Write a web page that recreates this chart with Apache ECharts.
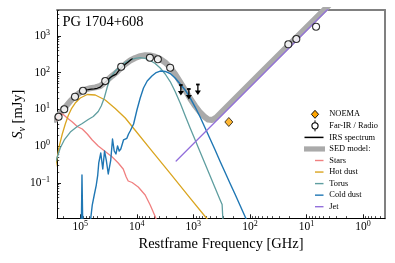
<!DOCTYPE html>
<html><head><meta charset="utf-8">
<script src="https://cdn.jsdelivr.net/npm/echarts@6/dist/echarts.min.js"></script>
<style>html,body{margin:0;padding:0;background:#fff}#c{width:395px;height:263px}</style>
</head><body><div id="c"></div>
<script>
const FONT = '"Liberation Serif","DejaVu Serif",serif';

// ---- data (frequency in GHz, flux density in mJy) ----
const starsNu = [2.77e5, 2.26e5, 2.00e5, 1.70e5, 1.38e5, 1.13e5, 9.22e4, 7.52e4, 6.14e4, 4.81e4, 3.62e4, 2.72e4, 2.13e4, 1.74e4, 1.54e4, 1.42e4, 1.21e4, 9440, 7110, 5800, 4730, 4190];
const starsS  = [4.8, 7.73, 7.26, 5.83, 4.54, 3.42, 2.92, 2.14, 1.47, 1.01, 0.713, 0.505, 0.347, 0.238, 0.144, 0.112, 0.102, 0.0769, 0.0466, 0.0248, 0.0121, 0.00708];

const hotNu = [2.77e5, 2.55e5, 2.35e5, 2.08e5, 1.84e5, 1.63e5, 1.44e5, 1.23e5, 1.00e5, 7.52e4, 5.43e4, 3.62e4, 2.41e4, 1.60e4, 1.07e4, 5800, 2570, 1140, 594, 412];
const hotS  = [0.253, 0.505, 1.01, 2.14, 4.00, 6.82, 10.3, 14.9, 20.5, 25.5, 24.7, 18.0, 10.6, 5.83, 2.70, 0.844, 0.180, 0.0385, 0.0112, 0.00558];

const torusNu = [2.77e5, 2.55e5, 2.26e5, 1.92e5, 1.50e5, 1.13e5, 9.22e4, 7.23e4, 5.89e4, 4.81e4, 4.26e4, 3.77e4, 3.33e4, 2.95e4, 2.41e4, 1.96e4, 1.60e4, 1.31e4, 1.07e4, 8710, 7110, 5800, 4730, 3860, 3150, 2570, 2100, 1710, 1400, 1140, 929, 759, 619, 505, 412, 336, 310, 297];
const torusS  = [0.347, 0.505, 0.887, 1.47, 2.42, 3.42, 4.13, 5.31, 6.41, 8.77, 12.4, 20.5, 40.7, 71.7, 111, 148, 190, 222, 244, 259, 247, 215, 178, 134, 92.2, 57.5, 30.8, 14.9, 6.82, 3.11, 1.47, 0.690, 0.325, 0.153, 0.0721, 0.0340, 0.0256, 0.00708];

const coldNu = [1.04e5, 9.52e4, 9.33e4, 9.10e4, 8.49e4, 6.93e4, 6.52e4, 6.14e4, 5.66e4, 5.21e4, 4.91e4, 4.71e4, 4.34e4, 4.00e4, 3.72e4, 3.47e4, 3.20e4, 2.89e4, 2.69e4, 2.51e4, 2.34e4, 2.19e4, 2.05e4, 1.92e4, 1.72e4, 1.50e4, 1.40e4, 1.31e4, 1.14e4, 9950, 8710, 7620, 6550, 5410, 4540, 3860, 3150, 2570, 2100, 1710, 1400, 1140, 929, 759, 619, 505, 412, 336, 274, 224, 182, 149, 122, 99.2];
const coldS  = [0.00276, 0.0133, 0.163, 0.0133, 0.00276, 0.00276, 0.0110, 0.0248, 0.0466, 0.0871, 0.163, 0.347, 0.649, 0.238, 0.735, 0.418, 0.174, 0.418, 1.56, 0.735, 0.610, 1.01, 0.735, 0.834, 1.47, 1.63, 2.14, 2.58, 4.00, 9.63, 20.5, 38.3, 59.4, 81.3, 101, 111, 108, 95, 71.8, 49.2, 33.8, 20.5, 11.6, 6.21, 3.11, 1.56, 0.783, 0.380, 0.191, 0.0957, 0.0480, 0.0241, 0.0121, 0.00605];

const jetNu = [2014, 2];
const jetS  = [0.393, 16800];

const sedNu = [2.77e5, 2.55e5, 2.26e5, 1.92e5, 1.50e5, 1.23e5, 1.00e5, 8.16e4, 6.66e4, 5.43e4, 4.43e4, 3.77e4, 3.20e4, 2.72e4, 2.31e4, 1.96e4, 1.60e4, 1.31e4, 1.07e4, 8710, 7110, 5800, 4730, 3860, 3150, 2570, 2100, 1710, 1400, 1140, 929, 759, 645, 548, 466, 395, 310, 66.1, 13.0, 2.55];
const sedS  = [5.24, 6.21, 7.98, 10.6, 16.9, 22.9, 29.2, 34.6, 37.8, 39.8, 43.4, 52.4, 66.1, 82.3, 101, 129, 171, 215, 252, 282, 298, 294, 273, 236, 190, 139, 92.2, 55.8, 33.8, 19.8, 12.4, 8.24, 6.41, 5.31, 5.14, 6.02, 8.77, 94.5, 1140, 13800];

const irsNu = [8.16e4, 7.68e4, 7.23e4, 6.80e4, 6.39e4, 6.01e4, 5.66e4, 5.32e4, 5.01e4, 4.71e4, 4.43e4, 4.26e4, 4.09e4, 3.93e4, 3.77e4, 3.62e4, 3.47e4, 3.33e4, 3.20e4, 3.07e4, 2.95e4, 2.83e4, 2.72e4, 2.61e4, 2.51e4, 2.41e4, 2.31e4, 2.22e4, 2.13e4, 2.05e4, 1.96e4, 1.89e4, 1.81e4, 1.74e4, 1.67e4, 1.60e4, 1.54e4, 1.48e4, 1.42e4, 1.36e4, 1.31e4, 1.26e4, 1.21e4];
const irsS  = [34.2, 35.3, 34.6, 36.2, 35.5, 37.3, 36.4, 38.3, 37.6, 39.8, 40.3, 42.1, 44.0, 48.6, 50.8, 55.5, 56.5, 61.0, 62.1, 69.0, 74.0, 77.3, 80.3, 83.4, 86.1, 87.7, 91.6, 101, 109, 116, 127, 133, 141, 151, 160, 169, 178, 185, 196, 207, 216, 228, 238];

const firNu = [2.42e5, 1.92e5, 1.24e5, 8.96e4, 3.62e4, 1.89e4, 5870, 4240, 2570, 20.9, 15.1, 6.76];
const firS  = [6.32, 10.1, 22.2, 32.3, 59.4, 145, 256, 232, 137, 594, 829, 1792];

const ulNu = [1663, 1201, 832];
const ulS  = [46.2, 36.0, 47.7];

const noemaNu = [236];
const noemaS  = [4.54];

const xMajor = [1e5, 1e4, 1e3, 1e2, 1e1, 1];
const yMajor = [0.1, 1, 10, 100, 1000];
const X_MIN = 0.408, X_MAX = 2.58e5, Y_MIN = 0.0108, Y_MAX = 5105;

// minor tick positions (2..9 x 10^n) inside the axis ranges
function minors(lo, hi) {
  const out = [];
  for (let e = -3; e <= 6; e++) for (let k = 2; k <= 9; k++) {
    const v = k * Math.pow(10, e);
    if (v > lo && v < hi) out.push(v);
  }
  return out;
}
const xMinor = minors(X_MIN, X_MAX);
const yMinor = minors(Y_MIN, Y_MAX);

const zip = (a, b) => a.map((v, i) => [v, b[i]]);

function expLabel(v) {
  const e = Math.round(Math.log10(v));
  return '{b|10}{s|' + (e < 0 ? '\u2212' + (-e) : e) + '}';
}
const tickRich = {
  b: {fontFamily: FONT, fontSize: 11.5, color: '#000', lineHeight: 14},
  s: {fontFamily: FONT, fontSize: 8, color: '#000', lineHeight: 8, verticalAlign: 'top'}
};

const chart = echarts.init(document.getElementById('c'), null, {renderer: 'canvas'});

const line = (name, nu, s, color, width, z) => ({
  name, type: 'line', data: zip(nu, s), symbol: 'none', smooth: false, clip: true,
  lineStyle: {color, width, cap: 'round', join: 'round'}, z: z || 3, silent: true, animation: false
});

// legend drawn with graphics
const LX = 329.3, L0 = 114.3, LD = 11.55, LF = '8.4px "Liberation Serif","DejaVu Serif",serif';
const legendItems = ['NOEMA', 'Far-IR / Radio', 'IRS spectrum', 'SED model:', 'Stars', 'Hot dust', 'Torus', 'Cold dust', 'Jet'];
const gfx = [];
legendItems.forEach((t, i) => {
  gfx.push({type: 'text', x: LX, y: L0 + i * LD, style: {text: t, font: LF, fill: '#000', verticalAlign: 'middle', textVerticalAlign: 'middle'}});
});
const ly = i => L0 + i * LD;
const MX = 315;
gfx.push({type: 'polygon', shape: {points: [[MX, ly(0) - 4], [MX + 3.6, ly(0)], [MX, ly(0) + 4], [MX - 3.6, ly(0)]]}, style: {fill: '#FFA500', stroke: '#000', lineWidth: 0.9}});
gfx.push({type: 'line', shape: {x1: MX, y1: ly(1) - 5.5, x2: MX, y2: ly(1) + 5.5}, style: {stroke: '#000', lineWidth: 1}});
gfx.push({type: 'circle', shape: {cx: MX, cy: ly(1), r: 3.1}, style: {fill: '#fff', stroke: '#000', lineWidth: 1.1}});
gfx.push({type: 'line', shape: {x1: 304.5, y1: ly(2), x2: 323.5, y2: ly(2)}, style: {stroke: '#000', lineWidth: 1.5}});
gfx.push({type: 'rect', shape: {x: 304, y: ly(3) - 2.6, width: 21, height: 5.2}, style: {fill: '#aaaaaa'}});
['#F08080', '#DAA520', '#5F9EA0', '#1f77b4', '#9370DB'].forEach((c, j) => {
  gfx.push({type: 'line', shape: {x1: 315, y1: ly(4 + j), x2: 323.5, y2: ly(4 + j)}, style: {stroke: c, lineWidth: 1.4}});
});
gfx.push({type: 'text', x: 62.5, y: 22.6, style: {text: 'PG 1704+608', font: '14.5px "Liberation Serif","DejaVu Serif",serif', fill: '#000', verticalAlign: 'middle', textVerticalAlign: 'middle'}});

const option = {
  animation: false,
  backgroundColor: '#fff',
  grid: {left: 57, top: 10, width: 328, height: 208.3, containLabel: false, outerBoundsMode: 'none', show: false},
  xAxis: [
    {type: 'log', logBase: 10, inverse: true, min: X_MIN, max: X_MAX, position: 'bottom',
     name: 'Restframe Frequency [GHz]', nameLocation: 'middle', nameGap: 18, nameMoveOverlap: false,
     nameTextStyle: {fontFamily: FONT, fontSize: 14.5, color: '#000'},
     axisLine: {show: true, lineStyle: {color: '#000', width: 1}},
     axisTick: {show: true, inside: true, length: 4, customValues: xMajor, lineStyle: {color: '#000', width: 0.9}},
     axisLabel: {show: true, customValues: xMajor, margin: 2, formatter: expLabel, rich: tickRich},
     splitLine: {show: false}, minorTick: {show: false}},
    {type: 'value', min: 0, max: 1, position: 'top',
     axisLine: {show: true, lineStyle: {color: '#808080', width: 2}},
     axisTick: {show: false}, axisLabel: {show: false}, splitLine: {show: false}},
    {type: 'log', logBase: 10, inverse: true, min: X_MIN, max: X_MAX, position: 'bottom',
     axisLine: {show: false},
     axisTick: {show: true, inside: true, length: 2.2, customValues: xMinor, lineStyle: {color: '#000', width: 0.7}},
     axisLabel: {show: false}, splitLine: {show: false}}
  ],
  yAxis: [
    {type: 'log', logBase: 10, min: Y_MIN, max: Y_MAX, position: 'left',
     name: '{i|S}{sub|\u03bd}{n| [mJy]}', nameLocation: 'middle', nameGap: 30, nameRotate: 90, nameMoveOverlap: false,
     nameTextStyle: {fontFamily: FONT, fontSize: 14.5, color: '#000',
       rich: {i: {fontFamily: FONT, fontStyle: 'italic', fontSize: 14.5, lineHeight: 18, color: '#000'},
              sub: {fontFamily: FONT, fontStyle: 'italic', fontSize: 10, lineHeight: 9, verticalAlign: 'bottom', color: '#000'},
              n: {fontFamily: FONT, fontSize: 14.5, lineHeight: 18, color: '#000'}}},
     axisLine: {show: true, lineStyle: {color: '#000', width: 1}},
     axisTick: {show: true, inside: true, length: 4, customValues: yMajor, lineStyle: {color: '#000', width: 0.9}},
     axisLabel: {show: true, customValues: yMajor, margin: 7, formatter: expLabel, rich: tickRich},
     splitLine: {show: false}, minorTick: {show: false}},
    {type: 'value', min: 0, max: 1, position: 'right',
     axisLine: {show: true, lineStyle: {color: '#808080', width: 2}},
     axisTick: {show: false}, axisLabel: {show: false}, splitLine: {show: false}},
    {type: 'log', logBase: 10, min: Y_MIN, max: Y_MAX, position: 'left',
     axisLine: {show: false},
     axisTick: {show: true, inside: true, length: 2.2, customValues: yMinor, lineStyle: {color: '#000', width: 0.7}},
     axisLabel: {show: false}, splitLine: {show: false}}
  ],
  graphic: gfx,
  series: [
    line('SED model', sedNu, sedS, '#aaaaaa', 6, 2),
    line('Stars', starsNu, starsS, '#F08080', 1.3),
    line('Hot dust', hotNu, hotS, '#DAA520', 1.3),
    line('Torus', torusNu, torusS, '#5F9EA0', 1.3),
    line('Cold dust', coldNu, coldS, '#1f77b4', 1.4),
    line('Jet', jetNu, jetS, '#9370DB', 1.3),
    line('IRS spectrum', irsNu, irsS, '#000', 1.2, 5),
    {name: 'Far-IR / Radio', type: 'scatter', data: zip(firNu, firS), symbol: 'circle', symbolSize: 7,
     itemStyle: {color: '#fff', borderColor: '#000', borderWidth: 1.1}, z: 6, silent: true},
    {name: 'Upper limits', type: 'custom', data: zip(ulNu, ulS), encode: {x: 0, y: 1}, z: 6, silent: true,
     renderItem: (params, api) => {
       const p = api.coord([api.value(0), api.value(1)]);
       return {type: 'group', children: [
         {type: 'line', shape: {x1: p[0] - 1.8, y1: p[1], x2: p[0] + 1.8, y2: p[1]}, style: {stroke: '#000', lineWidth: 1.8}},
         {type: 'line', shape: {x1: p[0], y1: p[1], x2: p[0], y2: p[1] + 7}, style: {stroke: '#000', lineWidth: 1.3}},
         {type: 'polygon', shape: {points: [[p[0] - 3, p[1] + 6], [p[0] + 3, p[1] + 6], [p[0], p[1] + 10.5]]}, style: {fill: '#000'}}
       ]};
     }},
    {name: 'NOEMA', type: 'scatter', data: zip(noemaNu, noemaS), symbol: 'diamond', symbolSize: [8, 9],
     itemStyle: {color: '#FFA500', borderColor: '#000', borderWidth: 0.9}, z: 6, silent: true}
  ]
};
chart.setOption(option);
</script>
</body></html>
